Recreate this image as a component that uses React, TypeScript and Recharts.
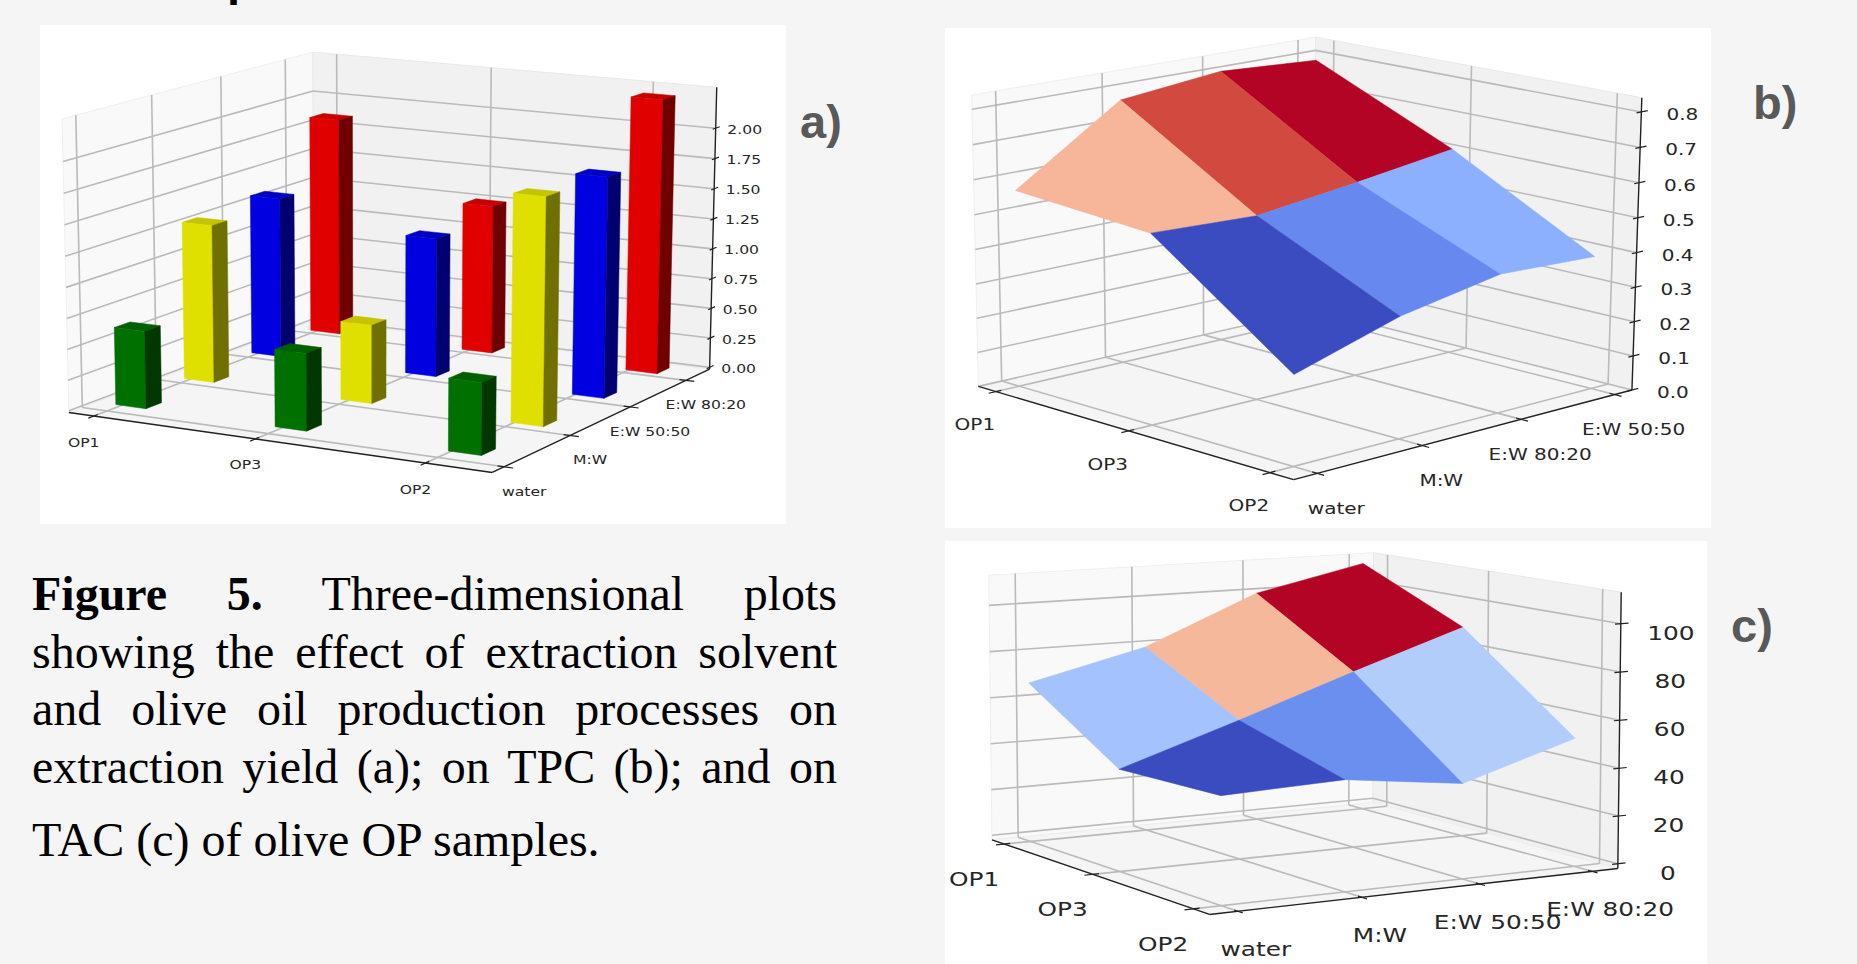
import React from 'react';
import { ScatterChart, Scatter, XAxis, YAxis, Polygon } from 'recharts';

const OP_LABELS = ['OP1', 'OP3', 'OP2'];
const SOLVENTS_YIELD = ['water', 'M:W', 'E:W 50:50', 'E:W 80:20'];
const SOLVENTS_TPC = ['water', 'M:W', 'E:W 80:20', 'E:W 50:50'];
const SOLVENTS_TAC = ['water', 'M:W', 'E:W 50:50', 'E:W 80:20'];

// a) extraction yield, one list per solvent, in OP_LABELS order
const YIELD_WATER = [0.63, 0.62, 0.57];
const YIELD_MW = [1.3, 0.64, 1.82];
const YIELD_EW5050 = [1.34, 1.15, 1.8];
const YIELD_EW8020 = [1.85, 1.25, 2.27];
const YIELD_COLORS = [
  ['#007000', '#003800', '#006000'],
  ['#e0e000', '#707000', '#c4c400'],
  ['#0000e0', '#000070', '#0000c4'],
  ['#e00000', '#700000', '#c40000'],
];

// b) TPC, one list per OP, in SOLVENTS_TPC order
const TPC_OP1 = [0.569, 0.773, 0.806, 0.79];
const TPC_OP3 = [0.541, 0.529, 0.566, 0.607];
const TPC_OP2 = [0.253, 0.344, 0.397, 0.385];
const TPC_COLORS = [
  ['#f7b599', '#d1493f', '#b40426'],
  ['#3b4cc0', '#6788ee', '#8db0fe'],
];

// c) TAC, one list per OP, in SOLVENTS_TAC order
const TAC_OP1 = [67, 78.9, 99.4, 109.8];
const TAC_OP3 = [40.7, 56.9, 73.6, 89.3];
const TAC_OP2 = [41.8, 43.5, 37.4, 51.8];
const TAC_COLORS = [
  ['#a3c2fe', '#f6b89a', '#b40426'],
  ['#3b4cc0', '#6b8fee', '#b3cdfb'],
];

const YIELD_TICKS = [0, 0.25, 0.5, 0.75, 1, 1.25, 1.5, 1.75, 2];
const TPC_TICKS = [0, 0.1, 0.2, 0.3, 0.4, 0.5, 0.6, 0.7, 0.8];
const TAC_TICKS = [0, 20, 40, 60, 80, 100];

type Pt = { x: number; y: number };
type Project = (u: number, v: number, w: number) => Pt;
type Face = { pts: Pt[]; fill?: string; stroke?: string; sw?: number };
type Label = { at: Pt; text: string };

// solves a 3x4 camera matrix from box corners: [u, v, w, px, py]
function makeCamera(anchors: number[][]): Project {
  const n = 11;
  const A = Array.from({ length: n }, () => new Array(n + 1).fill(0));
  const addRow = (r: number[], b: number) => {
    for (let i = 0; i < n; i++) {
      for (let j = 0; j < n; j++) A[i][j] += r[i] * r[j];
      A[i][n] += r[i] * b;
    }
  };
  for (const [u, v, w, px, py] of anchors) {
    const x = px / 1000;
    const y = py / 1000;
    addRow([u, v, w, 1, 0, 0, 0, 0, -x * u, -x * v, -x * w], x);
    addRow([0, 0, 0, 0, u, v, w, 1, -y * u, -y * v, -y * w], y);
  }
  for (let i = 0; i < n; i++) {
    let best = i;
    for (let r = i + 1; r < n; r++) if (Math.abs(A[r][i]) > Math.abs(A[best][i])) best = r;
    [A[i], A[best]] = [A[best], A[i]];
    for (let r = 0; r < n; r++) {
      if (r === i) continue;
      const f = A[r][i] / A[i][i];
      for (let c = i; c <= n; c++) A[r][c] -= f * A[i][c];
    }
  }
  const p = A.map((row, i) => row[n] / row[i]);
  return (u, v, w) => {
    const d = p[8] * u + p[9] * v + p[10] * w + 1;
    return {
      x: (1000 * (p[0] * u + p[1] * v + p[2] * w + p[3])) / d,
      y: (1000 * (p[4] * u + p[5] * v + p[6] * w + p[7])) / d,
    };
  };
}

const CAMERA_A = makeCamera([
  [0, 0, 0, 29.7, 386.7], [1, 0, 0, 451.6, 449], [1, 1, 0, 670.3, 341.7], [0, 1, 0, 273.2, 296.7],
  [0, 0, 1, 21.8, 93.3], [1, 1, 1, 676.6, 63.3], [0, 1, 1, 273.2, 26.7],
]);
const CAMERA_B = makeCamera([
  [0, 0, 0, 34, 356], [1, 0, 0, 348, 454.3], [1, 1, 0, 687.9, 358], [0, 1, 0, 368.1, 285.3],
  [0, 0, 1, 26.6, 67], [1, 1, 1, 696.5, 71.3], [0, 1, 1, 371, 7.7],
]);
const CAMERA_C = makeCamera([
  [0, 0, 0, 46.7, 300], [1, 0, 0, 264.8, 372.3], [1, 1, 0, 672.4, 329], [0, 1, 0, 428.4, 260],
  [0, 0, 1, 43.8, 34], [1, 1, 1, 676.4, 50.7], [0, 1, 1, 428.4, 12.3],
]);

type Frame = {
  cam: Project;
  uTicks: number[];
  vTicks: number[];
  zTicks: number[];
  zMin: number;
  zMax: number;
  opLabels: string[];
  solventLabels: string[];
  zFormat: (z: number) => string;
  opOffset: [number, number];
  solventOffset: [number, number];
  zOffset: [number, number];
};

const GRID = '#bababa';
const AXIS = '#222222';

function buildFrame(f: Frame) {
  const { cam, uTicks, vTicks, zTicks } = f;
  const wOf = (z: number) => (z - f.zMin) / (f.zMax - f.zMin);
  const faces: Face[] = [
    { pts: [cam(0, 0, 0), cam(0, 1, 0), cam(0, 1, 1), cam(0, 0, 1)], fill: '#f9f9f9', stroke: '#efefef', sw: 1 },
    { pts: [cam(0, 1, 0), cam(1, 1, 0), cam(1, 1, 1), cam(0, 1, 1)], fill: '#f1f1f1', stroke: '#e9e9e9', sw: 1 },
    { pts: [cam(0, 0, 0), cam(1, 0, 0), cam(1, 1, 0), cam(0, 1, 0)], fill: '#f5f5f5', stroke: '#eeeeee', sw: 1 },
  ];
  const line = (a: Pt, b: Pt, stroke = GRID, sw = 1.6) => faces.push({ pts: [a, b], stroke, sw });
  for (const u of uTicks) {
    line(cam(u, 0, 0), cam(u, 1, 0));
    line(cam(u, 1, 0), cam(u, 1, 1));
  }
  for (const v of vTicks) {
    line(cam(0, v, 0), cam(1, v, 0));
    line(cam(0, v, 0), cam(0, v, 1));
  }
  for (const z of zTicks) {
    const w = wOf(z);
    line(cam(0, 0, w), cam(0, 1, w));
    line(cam(0, 1, w), cam(1, 1, w));
  }
  line(cam(0, 0, 0), cam(1, 0, 0), AXIS, 1.4);
  line(cam(1, 0, 0), cam(1, 1, 0), AXIS, 1.4);
  line(cam(1, 1, 0), cam(1, 1, 1), AXIS, 1.4);
  const labels: Label[] = [];
  const shift = (p: Pt, o: [number, number]) => ({ x: p.x + o[0], y: p.y + o[1] });
  uTicks.forEach((u, i) => {
    line(cam(u, -0.02, 0), cam(u, 0.015, 0), AXIS, 1.2);
    labels.push({ at: shift(cam(u, 0, 0), f.opOffset), text: f.opLabels[i] });
  });
  vTicks.forEach((v, i) => {
    line(cam(0.985, v, 0), cam(1.02, v, 0), AXIS, 1.2);
    labels.push({ at: shift(cam(1, v, 0), f.solventOffset), text: f.solventLabels[i] });
  });
  zTicks.forEach((z) => {
    const w = wOf(z);
    line(cam(1, 0.985, w), cam(1, 1.02, w), AXIS, 1.2);
    labels.push({ at: shift(cam(1, 1, w), f.zOffset), text: f.zFormat(z) });
  });
  return { faces, labels };
}

const U_A = [0.062, 0.455, 0.85];
const V_A = [0.05, 0.335, 0.61, 0.88];
const BAR_U = [0.093, 0.483, 0.888];
const BAR_V = [0.123, 0.39, 0.667, 0.922];
const FRAME_A: Frame = {
  cam: CAMERA_A, uTicks: U_A, vTicks: V_A, zTicks: YIELD_TICKS, zMin: -0.014, zMax: 2.335,
  opLabels: OP_LABELS, solventLabels: SOLVENTS_YIELD, zFormat: (z) => z.toFixed(2),
  opOffset: [-10, 26], solventOffset: [20, 24.5], zOffset: [29, 1],
};
const U_B = [0.06, 0.497, 0.93];
const V_B = [0.065, 0.362, 0.655, 0.945];
const FRAME_B: Frame = {
  cam: CAMERA_B, uTicks: U_B, vTicks: V_B, zTicks: TPC_TICKS, zMin: 0, zMax: 0.84,
  opLabels: OP_LABELS, solventLabels: SOLVENTS_TPC, zFormat: (z) => z.toFixed(1),
  opOffset: [-21, 33], solventOffset: [19, 34.5], zOffset: [41, 2.3],
};
const U_C = [0.062, 0.49, 0.932];
const V_C = [0.065, 0.358, 0.647, 0.933];
const FRAME_C: Frame = {
  cam: CAMERA_C, uTicks: U_C, vTicks: V_C, zTicks: TAC_TICKS, zMin: -2, zMax: 113,
  opLabels: OP_LABELS, solventLabels: SOLVENTS_TAC, zFormat: (z) => String(z),
  opOffset: [-30, 35], solventOffset: [18, 38], zOffset: [50, 9],
};

function buildBars(): Face[] {
  const rows = [YIELD_WATER, YIELD_MW, YIELD_EW5050, YIELD_EW8020];
  const du = 0.0375;
  const dv = 0.03;
  const wOf = (z: number) => (z - FRAME_A.zMin) / (FRAME_A.zMax - FRAME_A.zMin);
  const bars: { depth: number; faces: Face[] }[] = [];
  rows.forEach((row, r) => {
    row.forEach((z, i) => {
      const cam = CAMERA_A;
      const u0 = BAR_U[i] - du;
      const u1 = BAR_U[i] + du;
      const v0 = BAR_V[r] - dv;
      const v1 = BAR_V[r] + dv;
      const b = wOf(0);
      const t = wOf(z);
      const [front, side, top] = YIELD_COLORS[r];
      bars.push({
        depth: BAR_U[i] - BAR_V[r],
        faces: [
          { pts: [cam(u0, v0, t), cam(u1, v0, t), cam(u1, v1, t), cam(u0, v1, t)], fill: top, stroke: top, sw: 0.5 },
          { pts: [cam(u0, v0, b), cam(u1, v0, b), cam(u1, v0, t), cam(u0, v0, t)], fill: front, stroke: front, sw: 0.5 },
          { pts: [cam(u1, v0, b), cam(u1, v1, b), cam(u1, v1, t), cam(u1, v0, t)], fill: side, stroke: side, sw: 0.5 },
        ],
      });
    });
  });
  return bars.sort((a, b) => a.depth - b.depth).flatMap((bar) => bar.faces);
}

function buildSurface(frame: Frame, rows: number[][], colors: string[][]): Face[] {
  const { cam, uTicks, vTicks } = frame;
  const wOf = (z: number) => (z - frame.zMin) / (frame.zMax - frame.zMin);
  const quads: { depth: number; face: Face }[] = [];
  for (let i = 0; i < rows.length - 1; i++) {
    for (let j = 0; j < rows[i].length - 1; j++) {
      const fill = colors[i][j];
      quads.push({
        depth: uTicks[i] - vTicks[j],
        face: {
          pts: [
            cam(uTicks[i], vTicks[j], wOf(rows[i][j])),
            cam(uTicks[i + 1], vTicks[j], wOf(rows[i + 1][j])),
            cam(uTicks[i + 1], vTicks[j + 1], wOf(rows[i + 1][j + 1])),
            cam(uTicks[i], vTicks[j + 1], wOf(rows[i][j + 1])),
          ],
          fill,
          stroke: fill,
          sw: 0.5,
        },
      });
    }
  }
  return quads.sort((a, b) => a.depth - b.depth).map((q) => q.face);
}

const NoMark = () => null;

function Panel3D(props: {
  left: number; top: number; width: number; height: number;
  faces: Face[]; labels: Label[]; fontSize: number; stretch: number;
}) {
  const { left, top, width, height, faces, labels, fontSize, stretch } = props;
  return (
    <div style={{ position: 'absolute', left, top, width, height, background: '#ffffff' }}>
      <ScatterChart width={width} height={height} margin={{ top: 0, right: 0, bottom: 0, left: 0 }}>
        <XAxis type="number" dataKey="x" domain={[0, width]} hide allowDataOverflow />
        <YAxis type="number" dataKey="y" domain={[0, height]} reversed hide allowDataOverflow />
        {faces.map((f, i) => (
          <Scatter
            key={i}
            data={f.pts}
            isAnimationActive={false}
            shape={NoMark}
            line={(p: { points: Pt[] }) => (
              <Polygon
                key={`face-${i}`}
                points={p.points}
                fill={f.fill ?? 'none'}
                stroke={f.stroke}
                strokeWidth={f.sw}
              />
            )}
          />
        ))}
        {labels.map((l, i) => (
          <Scatter
            key={`label-${i}`}
            data={[l.at]}
            isAnimationActive={false}
            shape={(p: { cx?: number; cy?: number }) => (
              <text
                transform={`translate(${p.cx},${p.cy}) scale(${stretch},1)`}
                textAnchor="middle"
                dominantBaseline="central"
                fontFamily="DejaVu Sans"
                fontSize={fontSize}
                fill="#262626"
              >
                {l.text}
              </text>
            )}
          />
        ))}
      </ScatterChart>
    </div>
  );
}

const CAPTION_LINES: { top: number; justify: boolean; bold?: string; text: string }[] = [
  { top: 609, justify: true, bold: 'Figure 5.', text: ' Three-dimensional plots' },
  { top: 667, justify: true, text: 'showing the effect of extraction solvent' },
  { top: 724, justify: true, text: 'and olive oil production processes on' },
  { top: 782, justify: true, text: 'extraction yield (a); on TPC (b); and on' },
  { top: 855, justify: false, text: 'TAC (c) of olive OP samples.' },
];

const PANEL_TAGS = [
  { text: 'a)', left: 800, base: 137 },
  { text: 'b)', left: 1753, base: 118 },
  { text: 'c)', left: 1731, base: 641 },
];

export default function App() {
  const frameA = buildFrame(FRAME_A);
  const frameB = buildFrame(FRAME_B);
  const frameC = buildFrame(FRAME_C);
  return (
    <div
      style={{
        position: 'absolute', left: 0, top: 0, width: 1857, height: 964,
        background: '#f5f5f5', overflow: 'hidden',
      }}
    >
      <div
        style={{
          position: 'absolute', left: 227, top: -48, font: 'bold 47px "Liberation Sans"',
          lineHeight: '53px', color: '#000',
        }}
      >
        p
      </div>
      <Panel3D
        left={40} top={25} width={746} height={499} fontSize={13} stretch={1.2}
        faces={[...frameA.faces, ...buildBars()]} labels={frameA.labels}
      />
      <Panel3D
        left={945} top={28} width={766} height={500} fontSize={16} stretch={1.25}
        faces={[...frameB.faces, ...buildSurface(FRAME_B, [TPC_OP1, TPC_OP3, TPC_OP2], TPC_COLORS)]}
        labels={frameB.labels}
      />
      <Panel3D
        left={945} top={541} width={762} height={423} fontSize={20} stretch={1.24}
        faces={[...frameC.faces, ...buildSurface(FRAME_C, [TAC_OP1, TAC_OP3, TAC_OP2], TAC_COLORS)]}
        labels={frameC.labels}
      />
      {CAPTION_LINES.map((l) => (
        <div
          key={l.top}
          style={{
            position: 'absolute', left: 32, top: l.top - 42, width: 805, height: 54,
            font: '48px/54px "Liberation Serif"', color: '#000', whiteSpace: 'pre',
            textAlign: l.justify ? 'justify' : 'left', textAlignLast: l.justify ? 'justify' : 'left',
          }}
        >
          {l.bold ? <b>{l.bold}</b> : null}
          {l.text}
        </div>
      ))}
      {PANEL_TAGS.map((t) => (
        <div
          key={t.text}
          style={{
            position: 'absolute', left: t.left, top: t.base - 42, height: 54,
            font: 'bold 47px/54px "Liberation Sans"', color: '#595959',
          }}
        >
          {t.text}
        </div>
      ))}
    </div>
  );
}
